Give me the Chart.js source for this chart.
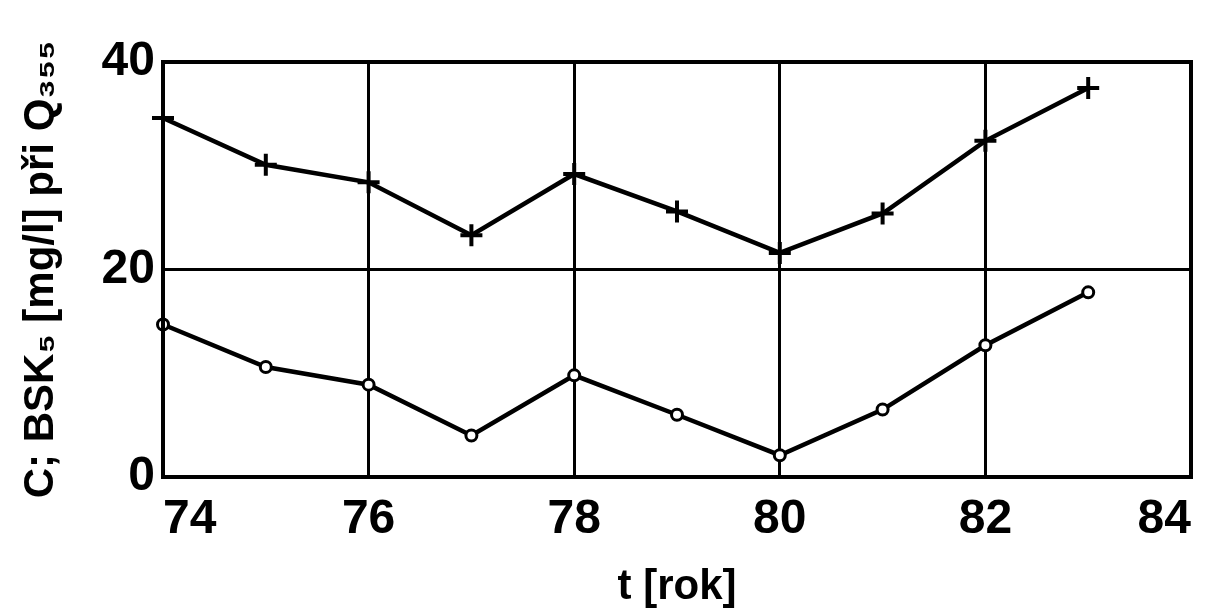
<!DOCTYPE html>
<html lang="cs">
<head>
    <meta charset="UTF-8">
    <title>BSK5 při Q355</title>
    <script src="https://cdn.jsdelivr.net/npm/chart.js"></script>
    <style>
        body {
            margin: 0;
            background: #ffffff;
        }
        .wrap {
            width: 1206px;
            height: 613px;
        }
    </style>
</head>
<body>
    <div class="wrap">
        <canvas id="bskChart" width="1206" height="613"></canvas>
    </div>

    <script>
        // data
        const years = [74, 75, 76, 77, 78, 79, 80, 81, 82, 83];
        const upperValues = [34.6, 30.1, 28.4, 23.3, 29.2, 25.6, 21.6, 25.4, 32.4, 37.5];
        const lowerValues = [14.7, 10.6, 8.9, 4.0, 9.8, 6.0, 2.1, 6.5, 12.7, 17.8];
        const xTicks = [74, 76, 78, 80, 82, 84];
        const yTicks = [0, 20, 40];

        const toPoints = vals => years.map((yr, i) => ({ x: yr, y: vals[i] }));

        const font = "'Liberation Sans', Arial, sans-serif";

        new Chart(document.getElementById("bskChart"), {
            type: "line",
            data: {
                datasets: [
                    {
                        label: "horní",
                        data: toPoints(upperValues),
                        borderColor: "#000",
                        borderWidth: 4.5,
                        pointStyle: "cross",
                        pointRadius: 11,
                        pointBorderWidth: 4,
                        pointBorderColor: "#000",
                        tension: 0,
                        clip: false
                    },
                    {
                        label: "dolní",
                        data: toPoints(lowerValues),
                        borderColor: "#000",
                        borderWidth: 4.5,
                        pointStyle: "circle",
                        pointRadius: 5.5,
                        pointBorderWidth: 3,
                        pointBorderColor: "#000",
                        pointBackgroundColor: "#fff",
                        tension: 0,
                        clip: false
                    }
                ]
            },
            options: {
                responsive: false,
                animation: false,
                layout: { padding: { left: 0, right: 13, top: 62, bottom: 0 } },
                plugins: {
                    legend: { display: false },
                    tooltip: { enabled: false }
                },
                scales: {
                    x: {
                        type: "linear",
                        min: 74,
                        max: 84,
                        afterBuildTicks: s => { s.ticks = xTicks.map(v => ({ value: v })); },
                        afterFit: s => {
                            s.height = 136;
                            s.paddingLeft = 0;
                            s.paddingRight = 0;
                        },
                        grid: { color: "#000", lineWidth: 3, drawTicks: false },
                        border: { color: "#000", width: 4 },
                        ticks: {
                            color: "#000",
                            padding: 14,
                            align: "inner",
                            font: { family: font, size: 48, weight: "bold" }
                        },
                        title: {
                            display: true,
                            text: "t [rok]",
                            color: "#000",
                            padding: { top: 14, bottom: 0 },
                            font: { family: font, size: 42, weight: "bold" }
                        }
                    },
                    y: {
                        min: 0,
                        max: 40,
                        afterBuildTicks: s => { s.ticks = yTicks.map(v => ({ value: v })); },
                        afterFit: s => {
                            s.width = 163;
                            s.paddingTop = 0;
                            s.paddingBottom = 0;
                        },
                        grid: { color: "#000", lineWidth: 3, drawTicks: false },
                        border: { color: "#000", width: 4 },
                        ticks: {
                            color: "#000",
                            padding: 8,
                            font: { family: font, size: 48, weight: "bold" }
                        },
                        title: {
                            display: true,
                            text: "C; BSK₅ [mg/l] při Q₃₅₅",
                            color: "#000",
                            padding: { top: 16, bottom: 0 },
                            font: { family: font, size: 42, weight: "bold" }
                        }
                    }
                }
            },
            plugins: [{
                // close the frame on top and right like the original box
                id: "frame",
                afterDraw(chart) {
                    const a = chart.chartArea, ctx = chart.ctx;
                    ctx.save();
                    ctx.strokeStyle = "#000";
                    ctx.lineWidth = 4;
                    ctx.strokeRect(a.left, a.top, a.right - a.left, a.bottom - a.top);
                    ctx.restore();
                }
            }]
        });
    </script>
</body>
</html>
